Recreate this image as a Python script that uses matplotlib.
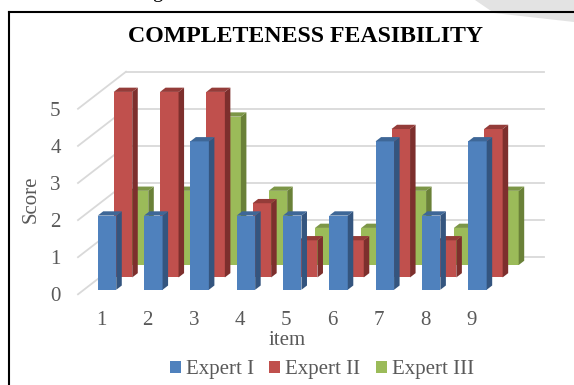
import numpy as np
import matplotlib
matplotlib.use('Agg')
import matplotlib.pyplot as plt
from matplotlib.patches import Patch, Polygon

plt.rcParams['font.family'] = ['Liberation Serif', 'DejaVu Serif']

items = [1, 2, 3, 4, 5, 6, 7, 8, 9]
expert_1 = [2, 2, 4, 2, 2, 2, 4, 2, 4]
expert_2 = [5, 5, 5, 2, 1, 1, 4, 1, 4]
expert_3 = [2, 2, 4, 2, 1, 1, 2, 1, 2]
score_ticks = [0, 1, 2, 3, 4, 5]
series_names = ['Expert I', 'Expert II', 'Expert III']

front_colors = ['#4F81BD', '#C0504D', '#9BBB59']
side_colors = ['#34557F', '#7D2F2D', '#6A8138']
top_colors = ['#3E6797', '#943C39', '#7C9647']

W, H = 574, 385
TEXT = '#595959'

# oblique projection of the depth axis, in item and score units
DEPTH_X = 48 / 46.3
DEPTH_Y = 1.0
BAR_W = 0.40
BAR_D = 0.115
SLOTS = [0.122, 0.455, 0.789]

fig = plt.figure(figsize=(W / 100, H / 100), dpi=100)

# page layer: frame and the grey corner shape
bg = fig.add_axes([0, 0, 1, 1])
bg.set_xlim(0, W)
bg.set_ylim(H, 0)
bg.axis('off')
bg.add_patch(Polygon([(475, 0), (574, 0), (574, 22), (494, 13)], color='#E3E3E3', lw=0))
bg.plot([9, 574], [11.5, 11.5], color='black', lw=1.5)
bg.plot([9, 9], [11.5, 385], color='black', lw=1.5)
bg.text(157, -2.5, 'g', fontsize=15, ha='center', va='baseline', color='black')

# plot layer: the front plane runs from px 78 to 495, score 0 at px 294.3
left, right, top, bottom = 78, 544, 71.7, 294.3
ax = fig.add_axes([left / W, 1 - bottom / H, (right - left) / W, (bottom - top) / H])
ax.patch.set_alpha(0)
ax.set_xlim(0.5, 0.5 + (right - left) / 46.3)
ax.set_ylim(0, 6)
for s in ax.spines.values():
    s.set_visible(False)

x0 = 0.5
x_end = ax.get_xlim()[1]
for v in score_ticks:
    ax.plot([x0, x0 + DEPTH_X], [v, v + DEPTH_Y], color='#D9D9D9', lw=1.3, zorder=1, clip_on=False)
    ax.plot([x0 + DEPTH_X, x_end], [v + DEPTH_Y, v + DEPTH_Y], color='#D9D9D9', lw=1.3, zorder=1, clip_on=False)

# back series first so the nearer bars cover them
series = [expert_1, expert_2, expert_3]
for k in [2, 1, 0]:
    d = SLOTS[k]
    z = 5 + (2 - k)
    xs = np.array(items) + DEPTH_X * d
    ys = DEPTH_Y * d
    ax.bar(xs, series[k], width=BAR_W, bottom=ys, color=front_colors[k], lw=0, zorder=z)
    dx = DEPTH_X * BAR_D
    dy = DEPTH_Y * BAR_D
    for xc, v in zip(xs, series[k]):
        xl, xr = xc - BAR_W / 2, xc + BAR_W / 2
        yt = ys + v
        ax.add_patch(Polygon([(xr, ys), (xr + dx, ys + dy), (xr + dx, yt + dy), (xr, yt)],
                             color=side_colors[k], lw=0, zorder=z, clip_on=False))
        ax.add_patch(Polygon([(xl, yt), (xl + dx, yt + dy), (xr + dx, yt + dy), (xr, yt)],
                             color=top_colors[k], lw=0, zorder=z, clip_on=False))

ax.set_xticks(items)
ax.set_yticks(score_ticks)
ax.tick_params(axis='x', length=0, pad=12, labelsize=15, labelcolor=TEXT)
ax.tick_params(axis='y', length=0, pad=12.5, labelsize=15, labelcolor=TEXT)

fig.text(305.5 / W, 1 - 37 / H, 'COMPLETENESS FEASIBILITY', fontsize=17.2, fontweight='bold',
         color='black', ha='center', va='center')
fig.text(287 / W, 1 - 340.5 / H, 'item', fontsize=15, color=TEXT, ha='center', va='center')
fig.text(31 / W, 1 - 199.5 / H, 'Score', fontsize=15, color=TEXT, rotation=90, ha='center', va='center')

handles = [Patch(color=c, lw=0) for c in front_colors]
fig.legend(handles, series_names, ncol=3, loc='center', bbox_to_anchor=(322 / W, 1 - 369.5 / H),
           frameon=False, fontsize=15, labelcolor=TEXT, handlelength=0.52, handleheight=0.52,
           handletextpad=0.25, columnspacing=0.73, borderpad=0, borderaxespad=0)

fig.savefig('out.png', dpi=100)
